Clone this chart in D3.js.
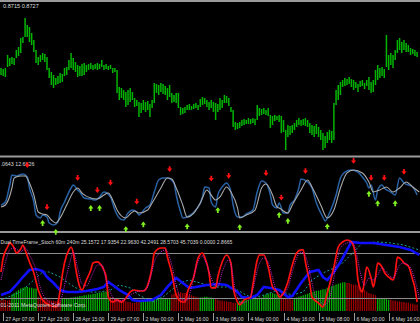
<!DOCTYPE html>
<html><head><meta charset="utf-8">
<script src="https://cdnjs.cloudflare.com/ajax/libs/d3/7.8.5/d3.min.js"></script>
<style>html,body{margin:0;padding:0;background:#000;overflow:hidden}svg{display:block}</style>
</head><body><svg id="c" width="420" height="323"></svg>
<script>
// ---- price bars (H1), pips above 0.8620 ----
const priceBase = 0.8620;
const highPips = [92,91,92,105,102,103,102,110,113,122,
123,142,135,133,127,120,110,103,105,107,
106,103,92,88,85,82,84,87,86,92,
93,100,107,102,98,95,94,96,97,95,
96,97,95,96,97,96,100,95,96,94,
95,92,92,90,73,72,70,68,70,72,
68,62,60,58,57,60,58,59,56,60,
77,76,75,77,76,74,72,75,67,65,
67,67,53,52,53,55,56,54,56,57,
55,61,63,62,60,58,60,58,57,56,
62,60,65,64,62,53,50,38,37,38,
40,41,40,42,41,42,41,55,52,51,
52,50,52,45,44,45,44,45,44,40,
30,35,34,35,37,40,42,40,41,42,
40,37,35,34,36,33,30,27,24,28,
30,29,57,70,75,78,80,82,81,83,
81,80,78,76,79,80,77,80,83,78,
80,90,95,92,93,91,125,105,107,105,
110,120,122,118,120,117,115,112,111,110,
108];
const lowPips = [85,84,83,93,94,96,95,102,104,107,
117,123,123,118,115,108,97,95,98,100,
98,90,82,75,72,75,76,77,78,84,
85,90,92,90,88,83,84,84,85,88,
90,91,90,91,90,91,93,90,91,90,
91,87,88,67,60,62,60,53,55,58,
60,53,54,43,47,50,48,50,43,52,
57,67,65,68,66,65,60,63,57,58,
57,52,45,46,47,50,50,50,51,52,
50,53,55,56,53,50,52,48,40,48,
50,52,57,57,54,48,33,30,31,32,
34,35,36,36,36,37,35,40,44,45,
46,45,44,32,35,39,40,38,27,28,
10,23,25,27,30,33,35,34,35,34,
33,27,25,23,26,23,20,10,12,17,
20,17,20,55,60,65,73,74,75,76,
73,70,72,68,73,74,71,74,70,67,
68,75,80,82,84,82,93,90,95,92,
100,107,110,107,110,108,108,105,106,104,
103];

// ---- Stochastic panel: [bar, value] ----
const stochMain = [[0,35.3],[2,39.7],[4,64.7],[5,79.4],[7,77.9],[10,80.9],[12,76.5],[13,60.3],[15,39.7],[16,20.6],[18,16.2],[19,20.6],[21,17.6],[22,8.8],[24,5.9],[26,10.3],[27,25],[29,39.7],[32,60.3],[33,64.7],[35,57.4],[36,54.4],[38,45.6],[41,44.1],[43,42.6],[45,47.1],[47,54.4],[50,47.1],[52,27.9],[54,16.2],[56,13.2],[58,23.5],[60,27.9],[62,25],[63,20.6],[66,30.9],[68,35.3],[70,54.4],[72,72.1],[74,75],[76,75],[79,67.6],[80,50],[82,25],[83,16.2],[85,17.6],[89,27.9],[92,47.1],[93,61.8],[95,60.3],[96,39.7],[98,32.4],[99,50],[101,61.8],[103,67.6],[105,54.4],[106,35.3],[108,17.6],[110,17.6],[112,22.1],[115,27.9],[117,54.4],[119,70.6],[121,67.6],[123,50],[124,35.3],[126,30.9],[127,38.2],[129,23.5],[131,23.5],[132,35.3],[134,42.6],[136,60.3],[137,73.5],[140,69.1],[142,60.3],[144,38.2],[147,17.6],[148,11.8],[150,23.5],[153,50],[155,75],[157,83.8],[160,86.8],[163,83.8],[165,76.5],[167,67.6],[168,60.3],[169,64.7],[171,42.6],[172,57.4],[174,64.7],[175,60.3],[178,54.4],[180,50],[182,75],[184,67.6],[188,61.8],[190,50]];
const stochSignal = [[0,32.4],[2,35.3],[5,60.3],[6,75],[9,77.9],[11,77.9],[13,67.6],[15,50],[17,25],[19,22.1],[21,20.6],[23,13.2],[25,8.8],[27,16.2],[30,35.3],[33,54.4],[35,60.3],[37,52.9],[41,45.6],[44,44.1],[47,50],[49,52.9],[51,42.6],[53,27.9],[57,16.2],[59,22.1],[61,26.5],[63,23.5],[67,27.9],[69,38.2],[73,60.3],[76,75],[78,73.5],[80,60.3],[83,35.3],[85,17.6],[88,23.5],[91,38.2],[94,57.4],[95,54.4],[98,42.6],[100,47.1],[103,61.8],[105,54.4],[108,30.9],[109,16.2],[112,20.6],[116,27.9],[119,60.3],[121,66.2],[124,50],[126,32.4],[127,30.9],[131,23.5],[133,35.3],[137,57.4],[140,72.1],[142,61.8],[146,35.3],[149,16.2],[152,27.9],[155,60.3],[158,82.4],[161,86.8],[165,82.4],[168,69.1],[170,54.4],[173,57.4],[176,61.8],[179,54.4],[182,60.3],[185,69.1],[188,61.8],[191,54.4]];
const downArrowBars = [12,21,35,44,50,62,77,96,104,121,128,139,161,169,175,184];
const downArrowVals = [94,32,75,57,68,40,88,74,78,82,46,85,100,75,75,84];
const upArrowBars = [19,25,41,45,57,65,85,99,109,127,131,149,168,172,180];
const upArrowVals = [9,-4,31,31,0,7,4,28,3,21,12,4,52,38,38];

// ---- Dual TimeFrame Stoch panel ----
const fastMain = [[0,54.6],[1,73],[3,87.5],[4,92.8],[6,86.2],[7,79.6],[9,84.9],[10,90.1],[11,83.6],[13,67.8],[15,53.3],[17,30.9],[19,17.8],[22,11.2],[25,8.6],[26,13.8],[27,30.9],[28,50.7],[29,66.4],[31,83.6],[32,87.5],[33,79.6],[34,61.2],[36,34.9],[37,30.9],[39,44.1],[41,57.2],[42,66.4],[44,67.8],[45,66.4],[47,57.2],[48,48],[49,21.7],[51,15.1],[53,17.8],[55,15.1],[58,24.3],[59,28.3],[61,30.9],[63,29.6],[65,29.6],[67,37.5],[69,61.2],[70,79.6],[73,86.2],[75,86.2],[76,74.3],[78,53.3],[80,24.3],[83,15.1],[84,15.1],[85,27],[88,48],[90,73],[92,79.6],[93,74.3],[95,53.3],[96,33.6],[98,33.6],[99,48],[101,67.8],[103,77],[105,66.4],[106,34.9],[108,15.1],[109,11.2],[111,17.8],[114,21.7],[115,37.5],[117,70.4],[118,77],[120,77],[122,61.2],[124,34.9],[126,28.3],[127,21.7],[129,27],[131,41.4],[133,63.8],[135,79.6],[137,83.6],[138,83.6],[139,67.8],[141,40.1],[142,21.7],[145,13.8],[147,8.6],[149,27],[152,61.2],[154,87.5],[156,94.1],[158,96.7],[160,94.1],[162,74.3],[163,44.1],[165,28.3],[166,44.1],[167,61.2],[169,46.7],[170,34.9],[171,48],[172,66.4],[174,61.2],[175,54.6],[177,48],[179,44.1],[180,53.3],[181,74.3],[183,70.4],[184,66.4],[186,62.5],[188,44.1],[189,33.6],[190,15.1]];
const fastSignal = [[0,44.1],[2,67.8],[4,83.6],[6,86.2],[9,80.9],[11,86.2],[13,77],[16,57.2],[18,33.6],[21,17.8],[24,12.5],[26,9.9],[28,24.3],[30,50.7],[32,73],[33,80.9],[35,59.9],[37,38.8],[39,36.2],[42,53.3],[44,63.8],[46,63.8],[48,44.1],[51,21.7],[53,16.4],[56,17.8],[59,24.3],[63,29.6],[66,30.9],[68,44.1],[70,67.8],[73,80.9],[75,83.6],[78,63.8],[80,37.5],[83,17.8],[85,17.8],[87,34.9],[89,59.9],[92,75.7],[94,63.8],[97,40.1],[99,34.9],[101,54.6],[104,70.4],[105,63.8],[107,30.9],[110,13.8],[113,17.8],[115,30.9],[117,57.2],[120,73],[122,67.8],[124,46.7],[126,28.3],[128,24.3],[131,33.6],[133,54.6],[135,73],[137,80.9],[139,75.7],[141,54.6],[143,28.3],[146,15.1],[148,11.2],[151,30.9],[153,63.8],[155,86.2],[158,92.8],[160,94.1],[162,83.6],[164,54.6],[166,37.5],[168,46.7],[170,44.1],[172,50.7],[174,59.9],[176,54.6],[179,46.7],[180,50.7],[182,63.8],[184,66.4],[187,59.9],[189,44.1],[191,20.4]];
const slowMain = [[0,24.3],[4,28.3],[7,37.5],[10,48],[13,57.2],[16,58.6],[19,55.9],[21,48],[24,40.1],[27,30.9],[30,28.3],[35,28.3],[39,29.6],[44,32.2],[47,34.9],[49,41.4],[51,37.5],[54,30.9],[58,24.3],[60,17.8],[63,16.4],[69,17.8],[73,24.3],[76,34.9],[79,44.1],[80,46.7],[83,40.1],[86,33.6],[89,34.9],[94,37.5],[99,38.8],[103,37.5],[108,28.3],[110,21.7],[114,20.4],[117,24.3],[120,34.9],[123,33.6],[127,30.9],[131,21.7],[133,23],[137,40.1],[141,54.6],[145,57.2],[147,48],[149,44.1],[152,54.6],[155,67.8],[158,83.6],[160,94.1],[164,92.8],[170,92.8],[176,90.1],[182,87.5],[187,83.6],[191,77]];
const slowSignal = [[0,17.8],[9,28.3],[15,44.1],[19,54.6],[22,54.6],[27,48],[32,37.5],[36,30.9],[41,28.3],[45,28.3],[50,30.9],[54,37.5],[59,33.6],[63,24.3],[69,15.1],[74,21.7],[79,33.6],[83,41.4],[86,44.1],[91,40.1],[97,34.9],[103,34.9],[108,30.9],[112,24.3],[115,20.4],[120,24.3],[124,28.3],[127,30.9],[130,27],[133,24.3],[138,28.3],[142,44.1],[147,53.3],[152,59.9],[156,66.4],[161,80.9],[165,92.8],[172,94.1],[178,92.8],[184,90.1],[191,83.6]];
const histValues = [18,19,18,17,18,
25,27,29,31,33,34,35,35,34,34,33,33,
22,21,20,19,18,18,17,17,16,16,17,
19,19,20,20,21,21,22,22,23,23,24,24,25,25,26,26,27,27,28,28,29,29,
22,21,20,19,18,17,16,16,15,15,14,14,15,15,
17,17,18,18,19,19,20,20,21,21,20,20,19,19,
25,26,27,28,28,27,27,26,25,24,23,22,21,
21,21,22,22,21,21,20,
19,18,17,17,16,16,15,15,14,14,
16,16,17,17,18,18,19,19,20,20,21,21,24,25,26,27,27,26,25,24,
22,21,20,19,19,18,
20,21,22,23,24,25,26,27,28,29,30,30,31,32,32,34,35,36,37,38,39,40,41,41,
40,40,39,38,38,37,35,33,31,29,27,26,25,24,
20,20,19,19,19,18,
18,17,17,16,16,15,15,14,14,13,13,12,12];
const histColorRuns = [["r",5],["g",12],["r",11],["g",22],["r",14],["g",14],["r",13],["g",7],["r",10],["g",20],["r",6],["g",24],["r",14],["g",6],["r",13]];
const levels = [80, 20];

// ---- axis / labels ----
const timeTickBars = [1,17,33,49,65,81,97,113,129,145,161,177];
const timeTickLabels = ["27 Apr 07:00","27 Apr 23:00","28 Apr 15:00","29 Apr 07:00","2 May 00:00","2 May 16:00","3 May 08:00","4 May 00:00","4 May 16:00","5 May 08:00","6 May 00:00","6 May 16:00"];
const priceHeader = "0.8715 0.8727";
const stochHeader = ".0643 12.6826";
const dtHeader = "Dual TimeFrame_Stoch 60m 240m 25.1572 17.9354 22.9630 42.2491 28.5703 45.7039 0.0000 2.8665";
const copyright = "01-2011 MetaQuotes Software Corp.";

// ---- drawing ----
const svg = d3.select('#c');
const FONT = '"Liberation Sans", Arial, sans-serif';
const TXT = '#dcdcdc';
svg.append('rect').attr('width',420).attr('height',323).attr('fill','#000');

const defs = svg.append('defs');
defs.append('clipPath').attr('id','cMain').append('rect').attr('x',0).attr('y',2).attr('width',420).attr('height',153.5);
defs.append('clipPath').attr('id','cSt').append('rect').attr('x',0).attr('y',157.5).attr('width',420).attr('height',73.5);
defs.append('clipPath').attr('id','cDT').append('rect').attr('x',0).attr('y',233).attr('width',420).attr('height',78);

const xBar = d3.scaleLinear().domain([0,190]).range([1,417.1]);
const yPrice = d3.scaleLinear().domain([priceBase, priceBase+0.0160]).range([160,0]);
const ySt = d3.scaleLinear().domain([0,100]).range([229,161]);
const yDT = d3.scaleLinear().domain([0,100]).range([313.5,237.5]);

// separators
[0,155.5,231].forEach(y=>svg.append('rect').attr('x',0).attr('y',y).attr('width',420).attr('height',2).attr('fill','#9a9a9a'));

// main price bars
const gMain = svg.append('g').attr('clip-path','url(#cMain)');
gMain.selectAll('line').data(d3.range(highPips.length)).join('line')
  .attr('x1',i=>xBar(i)).attr('x2',i=>xBar(i))
  .attr('y1',i=>yPrice(priceBase+highPips[i]/10000)).attr('y2',i=>yPrice(priceBase+lowPips[i]/10000))
  .attr('stroke','#00b400').attr('stroke-width',1.5);
svg.append('text').attr('x',3).attr('y',7.5)
  .attr('font-family',FONT).attr('font-size',5.6).attr('fill',TXT).text(priceHeader);

// stochastic panel
const gSt = svg.append('g').attr('clip-path','url(#cSt)');
const lineSt = d3.line().x(d=>xBar(d[0])).y(d=>ySt(d[1])).curve(d3.curveMonotoneX);
gSt.append('path').attr('d',lineSt(stochMain)).attr('fill','none').attr('stroke','#2862a4').attr('stroke-width',1.5);
gSt.append('path').attr('d',lineSt(stochSignal)).attr('fill','none').attr('stroke','#aaaaaa').attr('stroke-width',1.1);
svg.append('text').attr('x',0.5).attr('y',166)
  .attr('font-family',FONT).attr('font-size',5.3).attr('fill',TXT).text(stochHeader);

function arrow(cx, cy, dir){ // dir 1 = down, -1 = up
  const s = dir;
  return `M${cx-0.9},${cy-3*s} L${cx+0.9},${cy-3*s} L${cx+0.9},${cy-0.6*s} L${cx+2.6},${cy-0.6*s} L${cx},${cy+2.8*s} L${cx-2.6},${cy-0.6*s} L${cx-0.9},${cy-0.6*s} Z`;
}
svg.append('g').selectAll('path').data(downArrowBars.map((b,i)=>[b,downArrowVals[i]])).join('path')
  .attr('d',d=>arrow(xBar(d[0]), ySt(d[1]), 1)).attr('fill','#ff1010');
svg.append('g').selectAll('path').data(upArrowBars.map((b,i)=>[b,upArrowVals[i]])).join('path')
  .attr('d',d=>arrow(xBar(d[0]), ySt(d[1]), -1)).attr('fill','#80f020');

// dual timeframe panel
const gDT = svg.append('g').attr('clip-path','url(#cDT)');
const histColors = [];
histColorRuns.forEach(([c,n])=>{ for(let k=0;k<n;k++) histColors.push(c); });
gDT.selectAll('line.h').data(d3.range(histValues.length)).join('line').attr('class','h')
  .attr('x1',i=>xBar(i)).attr('x2',i=>xBar(i))
  .attr('y1',yDT(0)).attr('y2',i=>yDT(histValues[i]))
  .attr('stroke',i=>histColors[i]==='g'?'#00b000':'#a00000').attr('stroke-width',1.3);
levels.forEach(v=>gDT.append('line').attr('x1',0).attr('x2',420).attr('y1',Math.round(yDT(v))+0.5).attr('y2',Math.round(yDT(v))+0.5)
  .attr('stroke','#8c8c8c').attr('stroke-width',1));
const lineDT = d3.line().x(d=>xBar(d[0])).y(d=>yDT(d[1]));
gDT.append('path').attr('d',lineDT(slowSignal)).attr('fill','none').attr('stroke','#14a0a0').attr('stroke-width',1).attr('stroke-dasharray','2,2');
gDT.append('path').attr('d',lineDT(slowMain)).attr('fill','none').attr('stroke','#1010ff').attr('stroke-width',2.6);
gDT.append('path').attr('d',lineDT.curve(d3.curveMonotoneX)(fastMain)).attr('fill','none').attr('stroke','#ff1010').attr('stroke-width',1.7);
gDT.append('path').attr('d',lineDT.curve(d3.curveMonotoneX)(fastSignal)).attr('fill','none').attr('stroke','#d020d0').attr('stroke-width',1).attr('stroke-dasharray','1,1.2');
svg.append('text').attr('x',0.5).attr('y',244).attr('font-family',FONT).attr('font-size',5.1).attr('fill',TXT).text(dtHeader);
svg.append('text').attr('x',0.5).attr('y',307).attr('font-family',FONT).attr('font-size',5.3).attr('fill',TXT).text(copyright);

// time axis
const gAx = svg.append('g');
timeTickBars.forEach((b,i)=>{
  const x = Math.round(xBar(b))+0.5;
  gAx.append('line').attr('x1',x).attr('x2',x).attr('y1',313).attr('y2',321).attr('stroke','#9a9a9a').attr('stroke-width',1);
  gAx.append('text').attr('x',x+2).attr('y',320.5).attr('font-family',FONT).attr('font-size',5.1).attr('fill',TXT).text(timeTickLabels[i]);
});
</script>
</body></html>
